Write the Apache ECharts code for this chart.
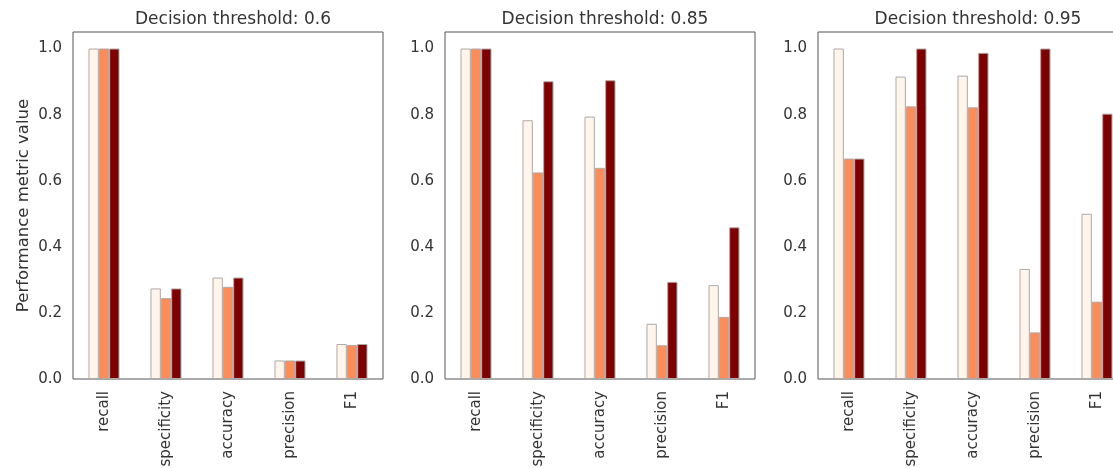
<!DOCTYPE html>
<html>
<head>
<meta charset="utf-8">
<script src="https://cdn.jsdelivr.net/npm/echarts@6/dist/echarts.min.js"></script>
<style>
  html, body { margin: 0; padding: 0; background: #fff; }
  #main { width: 1113px; height: 468px; }
</style>
</head>
<body>
<div id="main"></div>
<script>
// metric names on the x axis
var metrics = ['recall', 'specificity', 'accuracy', 'precision', 'F1'];
// one panel per decision threshold
var thresholds = ['0.6', '0.85', '0.95'];
var yTicks = [0.0, 0.2, 0.4, 0.6, 0.8, 1.0];

// values per panel, three bars per metric (light / mid / dark)
var t06Light = [1.0, 0.274, 0.307, 0.056, 0.106];
var t06Mid   = [1.0, 0.245, 0.279, 0.056, 0.103];
var t06Dark  = [1.0, 0.274, 0.307, 0.056, 0.106];

var t085Light = [1.0, 0.783, 0.794, 0.167, 0.284];
var t085Mid   = [1.0, 0.625, 0.639, 0.102, 0.188];
var t085Dark  = [1.0, 0.901, 0.904, 0.294, 0.459];

var t095Light = [1.0, 0.915, 0.918, 0.333, 0.5];
var t095Mid   = [0.667, 0.825, 0.822, 0.141, 0.234];
var t095Dark  = [0.667, 1.0, 0.987, 1.0, 0.803];

var panels = [
    [t06Light, t06Mid, t06Dark],
    [t085Light, t085Mid, t085Dark],
    [t095Light, t095Mid, t095Dark]
];
var colors = ['#fff5eb', '#fc8d59', '#7f0000'];
var lefts = [73, 445, 818];
var font = 'DejaVu Sans';

var myChart = echarts.init(document.getElementById('main'));

var titles = [], grids = [], xAxes = [], yAxes = [], series = [];
for (var p = 0; p < 3; p++) {
    titles.push({
        text: 'Decision threshold: ' + thresholds[p],
        left: lefts[p] + 155,
        top: 6,
        textAlign: 'center',
        textStyle: {fontFamily: font, fontSize: 17, fontWeight: 'normal', color: '#333'}
    });
    grids.push({
        left: lefts[p], top: 32, width: 310, height: 347,
        outerBoundsMode: 'none',
        containLabel: false,
        show: true, borderColor: '#555', borderWidth: 1, backgroundColor: '#fff'
    });
    xAxes.push({
        type: 'category',
        gridIndex: p,
        data: metrics,
        axisLine: {show: false},
        axisTick: {show: false},
        splitLine: {show: false},
        axisLabel: {rotate: 90, margin: 12, fontFamily: font, fontSize: 15, color: '#333', interval: 0}
    });
    yAxes.push({
        type: 'value',
        gridIndex: p,
        min: 0, max: 1.05, interval: 0.2,
        name: p == 0 ? 'Performance metric value' : '',
        nameLocation: 'middle',
        nameGap: 41,
        nameTextStyle: {fontFamily: font, fontSize: 16.5, color: '#333'},
        axisLine: {show: false},
        axisTick: {show: false},
        splitLine: {show: false},
        axisLabel: {
            margin: 11, fontFamily: font, fontSize: 15, color: '#333',
            formatter: function (v) {
                return yTicks.indexOf(Math.round(v * 10) / 10) >= 0 && Math.abs(v * 5 - Math.round(v * 5)) < 1e-6 ? v.toFixed(1) : '';
            }
        }
    });
    for (var s = 0; s < 3; s++) {
        series.push({
            type: 'bar',
            xAxisIndex: p,
            yAxisIndex: p,
            data: panels[p][s],
            barWidth: '16.67%',
            barGap: '0%',
            itemStyle: {color: colors[s], borderColor: '#b0a8a8', borderWidth: 1},
            silent: true
        });
    }
}

var option = {
    animation: false,
    backgroundColor: '#fff',
    title: titles,
    grid: grids,
    xAxis: xAxes,
    yAxis: yAxes,
    series: series
};
myChart.setOption(option);
</script>
</body>
</html>
